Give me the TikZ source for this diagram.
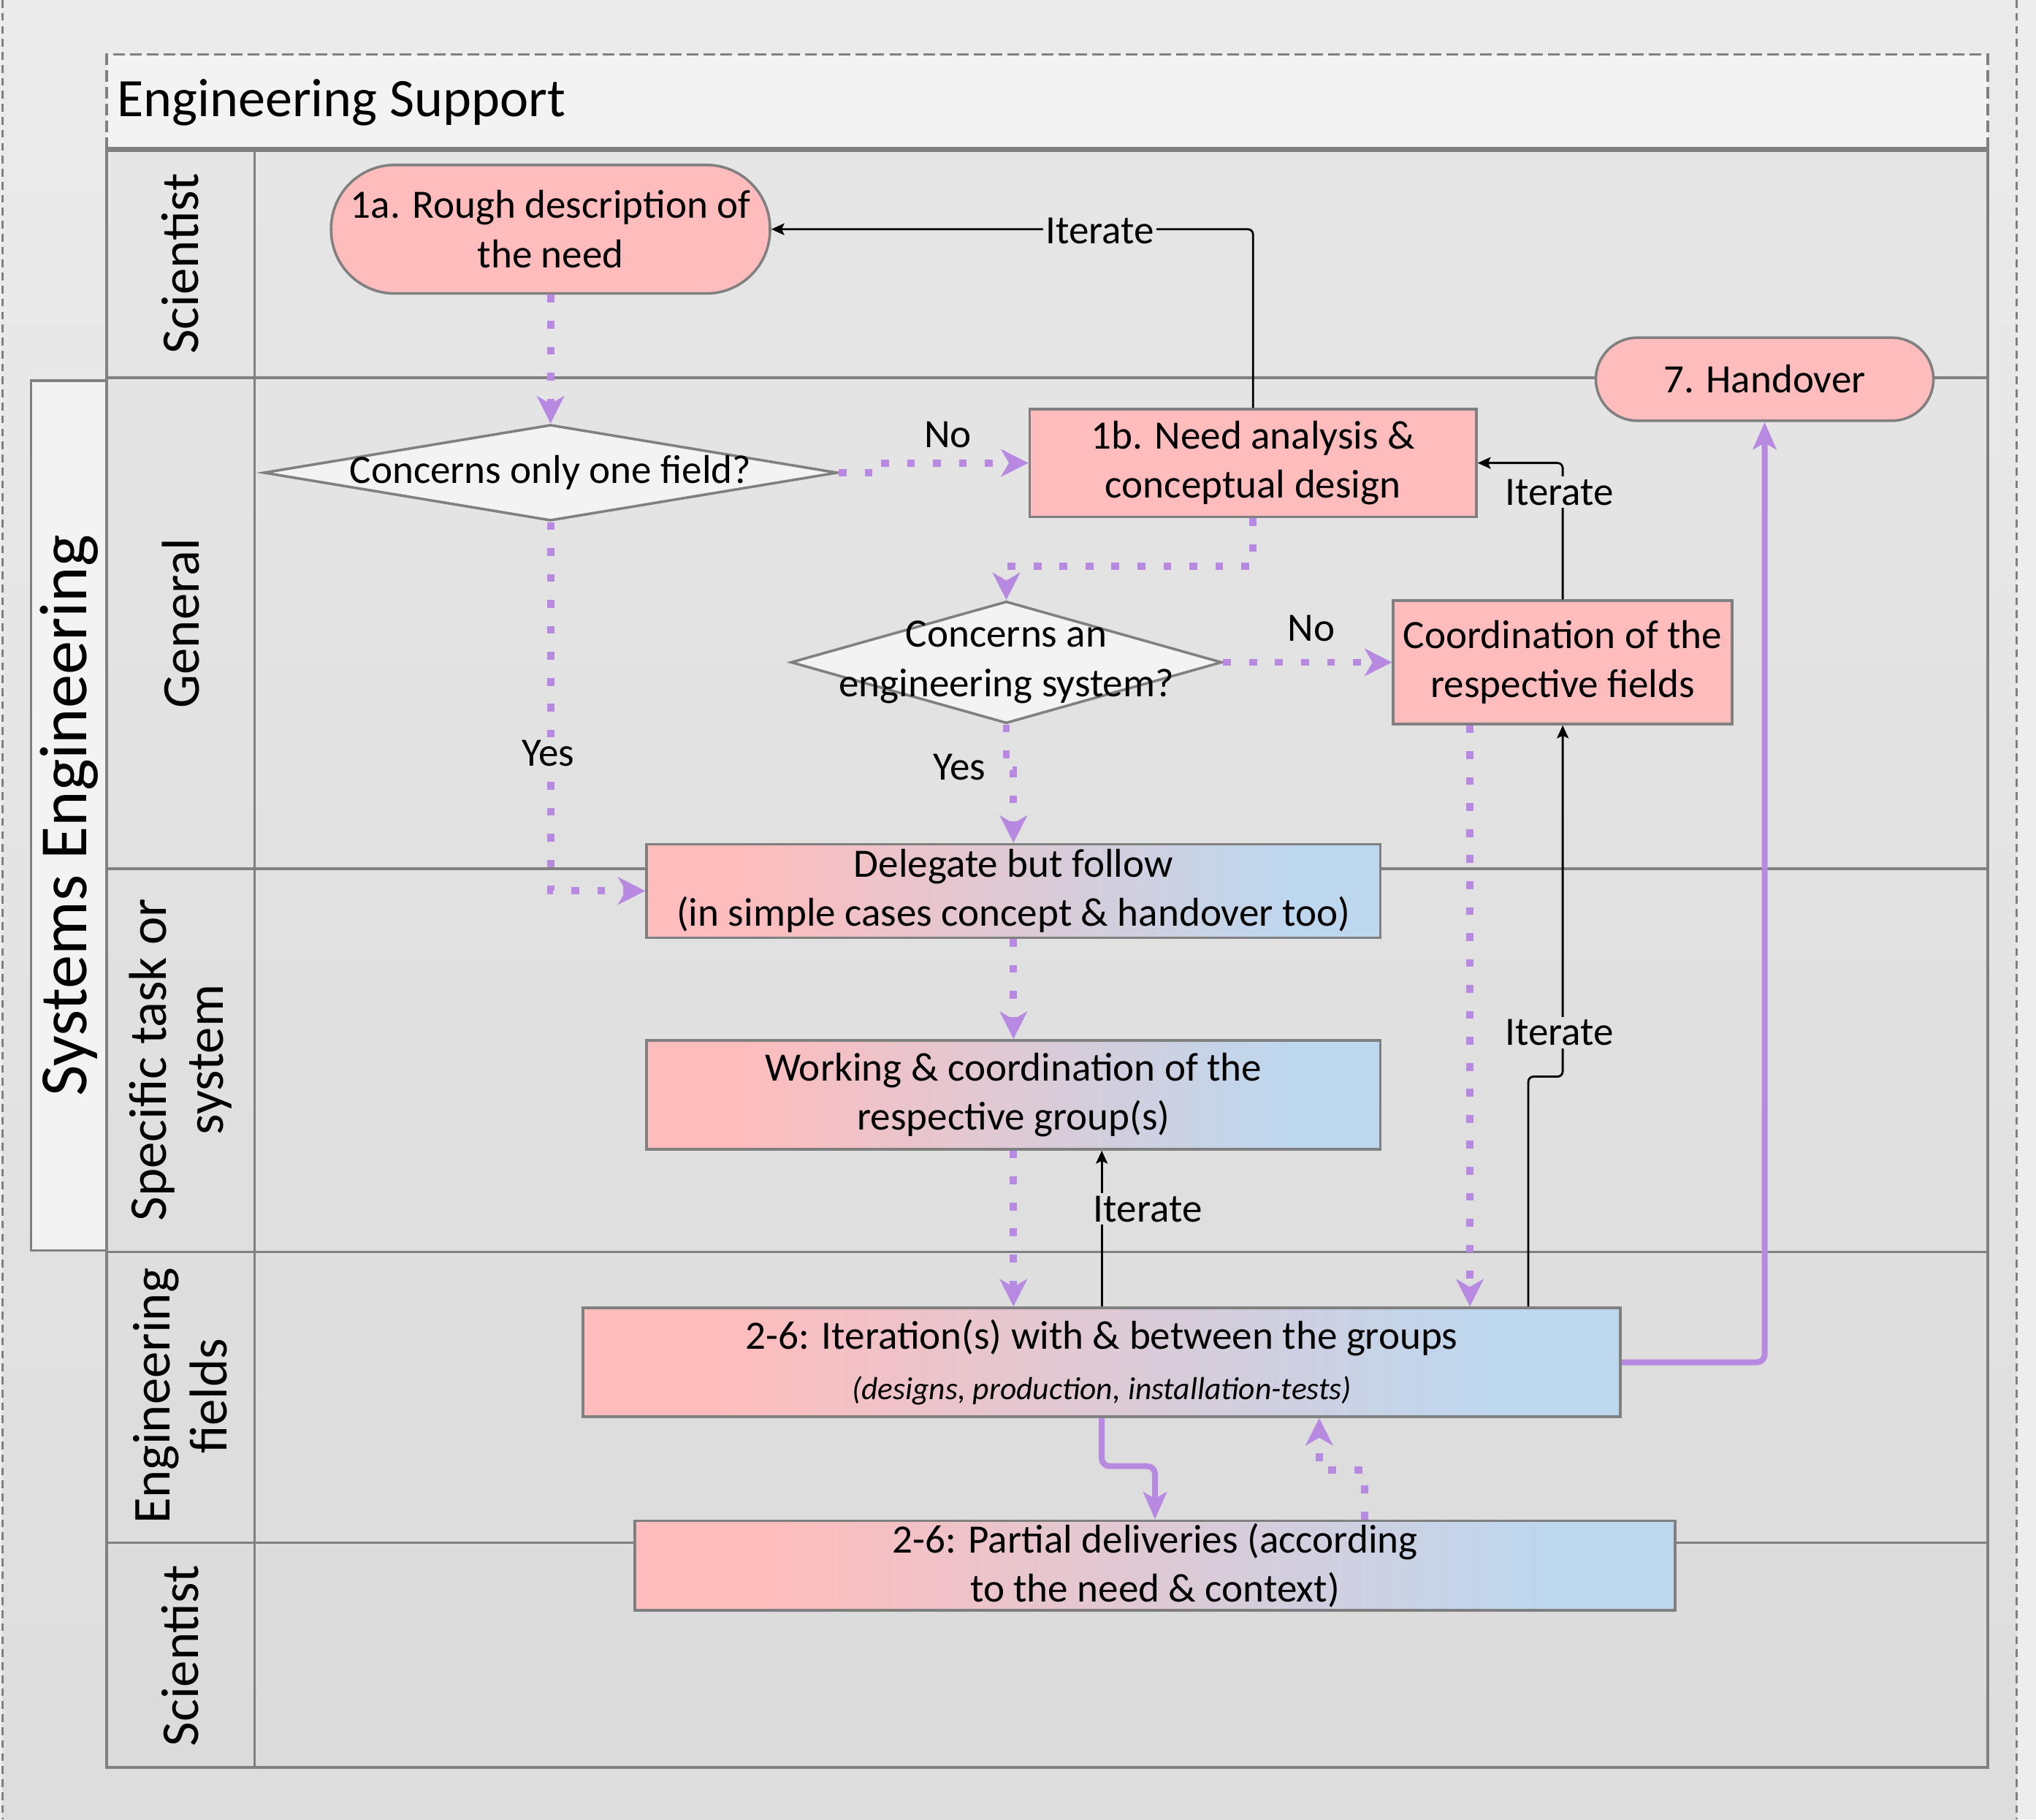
\documentclass[tikz,border=0pt]{standalone}
\usepackage{fontspec}
\setmainfont{Carlito}
\usetikzlibrary{arrows.meta,shapes.geometric,calc}
\definecolor{pk}{RGB}{255,188,188}
\definecolor{bl}{RGB}{189,215,238}
\definecolor{pu}{RGB}{183,137,224}
\definecolor{gr}{RGB}{128,128,128}
\definecolor{pgT}{RGB}{235,235,235}
\definecolor{pgB}{RGB}{221,221,221}
\definecolor{lnT}{RGB}{230,230,230}
\definecolor{lnB}{RGB}{219,219,219}
\definecolor{hd}{RGB}{243,243,243}
\definecolor{outer}{RGB}{237,237,238}
\pgfdeclarehorizontalshading{pkbl}{100bp}{color(0bp)=(pk); color(31bp)=(pk); color(69bp)=(bl); color(100bp)=(bl)}
\begin{document}
\begin{tikzpicture}[x=1pt,y=-1pt,
  txt/.style={font=\fontsize{31}{38}\selectfont, align=center, inner sep=0pt},
  box/.style={txt, draw=gr, line width=2pt, fill=pk},
  gbox/.style={box, shading=pkbl},
  dia/.style={shape=diamond, draw=gr, line width=2pt, fill=hd, inner sep=0pt},
  lane/.style={font=\fontsize{41}{44}\selectfont, rotate=90, align=center, inner sep=0pt},
  pdot/.style={draw=pu, line width=5.5pt, dash pattern=on 6pt off 14pt, -{Stealth[length=21pt,width=21pt,inset=6pt]}},
  psol/.style={draw=pu, line width=4.5pt, rounded corners=6pt, -{Stealth[length=21pt,width=18pt,inset=5pt]}},
  blk/.style={draw=black, line width=1.6pt, rounded corners=4pt, -{Stealth[length=10pt,width=9pt,inset=2pt]}},
  lbl/.style={txt, inner sep=2pt},
  laneline/.style={draw=gr, line width=2pt}
]
\useasboundingbox (0,0) rectangle (1568,1401);
% page background
\fill[outer] (0,0) rectangle (1568,1401);
\shade[top color=pgT, bottom color=pgB] (2,0) rectangle (1553,1401);
\draw[gr, line width=1.5pt, dash pattern=on 6pt off 4pt] (2,0) -- (2,1401);
\draw[gr, line width=1.5pt, dash pattern=on 6pt off 4pt] (1553,0) -- (1553,1401);
% header
\fill[hd] (82,42) rectangle (1531,115);
\draw[gr, line width=2pt, dash pattern=on 9pt off 4pt] (82,115) -- (82,42) -- (1531,42) -- (1531,115);
\node[font=\fontsize{41.7}{46}\selectfont, anchor=west, inner sep=0pt] (hdr) at (90,79) {Engineering Support};
% lanes
\shade[top color=lnT, bottom color=lnB] (82,115) rectangle (1531,1361);
\draw[laneline] (82,115) rectangle (1531,1361);
\draw[gr, line width=3.5pt] (82,115) -- (1531,115);
\foreach \yy in {291,669,964,1188} \draw[laneline] (82,\yy) -- (1531,\yy);
\draw[laneline] (196,115) -- (196,1361);
% systems engineering box
\node[draw=gr, line width=2pt, fill=hd, rotate=90, minimum width=670pt, minimum height=58pt, inner sep=0pt, font=\fontsize{52}{56}\selectfont] (se) at (53,628) {Systems Engineering};
% lane labels
\node[lane] (l1) at (139,203) {Scientist};
\node[lane] (l2) at (139,480) {General};
\node[lane] (l3) at (139,816) {Specific task or\\system};
\node[lane] (l4) at (139,1075) {Engineering\\fields};
\node[lane] (l5) at (139,1275) {Scientist};
% nodes
\node[box, rounded corners=49pt, minimum width=338pt, minimum height=99pt] (n1a) at (424,176.5) {1a. Rough description of\\the need};
\node[box, rounded corners=32pt, minimum width=260pt, minimum height=64pt] (hand) at (1359,292) {7. Handover};
\node[box, minimum width=344pt, minimum height=83pt] (n1b) at (965,356.5) {1b. Need analysis \&\\conceptual design};
\node[dia, minimum width=442pt, minimum height=74pt] (d1) at (424,364) {};
\node[txt] (d1t) at (d1.center) {Concerns only one field?};
\node[dia, minimum width=332pt, minimum height=94pt] (d2) at (775,510) {};
\node[txt] (d2t) at (d2.center) {Concerns an\\engineering system?};
\node[box, minimum width=261pt, minimum height=95pt] (coord) at (1203.5,510) {Coordination of the\\respective fields};
\node[gbox, minimum width=565pt, minimum height=72pt] (del) at (780.5,686) {Delegate but follow\\(in simple cases concept \& handover too)};
\node[gbox, minimum width=565pt, minimum height=84pt] (work) at (780.5,843) {Working \& coordination of the\\respective group(s)};
\node[gbox, minimum width=799pt, minimum height=84pt] (iter) at (848.5,1049) {2-6: Iteration(s) with \& between the groups\\[1pt]{\fontsize{24.5}{27}\selectfont\itshape (designs, production, installation-tests)}};
\node[gbox, minimum width=801pt, minimum height=69pt] (part) at (889.5,1205.5) {2-6: Partial deliveries (according\\to the need \& context)};
% helper coordinates
\coordinate (cx1) at (1132,0);
\coordinate (cx2) at (1177,0);
\coordinate (cx3) at (1051,0);
\coordinate (cx4) at (1016,0);
% purple flow
\draw[pdot] (n1a.south) -- (d1.north);
\draw[pdot] (d1.east) -- ++(31,0) |- (n1b.west);
\draw[pdot] (d1.south) |- (del.west);
\draw[pdot] (n1b.south) -- ++(0,37) -| (d2.north);
\draw[pdot] (d2.east) -- (coord.west);
\draw[pdot] (d2.south) -- ++(0,35) -| (del.north);
\draw[pdot] (del.south) -- (work.north);
\draw[pdot] (work.south) -- (work.south |- iter.north);
\draw[pdot] (cx1 |- coord.south) -- (cx1 |- iter.north);
\draw[pdot] (cx3 |- part.north) -- ++(0,-38) -| (cx4 |- iter.south);
\draw[psol] (iter.east) -| (hand.south);
\draw[psol] (iter.south) -- ++(0,37) -| (part.north);
% black iterate
\draw[blk] (n1b.north) |- (n1a.east);
\draw[blk] (coord.north) |- (n1b.east);
\draw[blk] (iter.north) -- (iter.north |- work.south);
\draw[blk] (cx2 |- iter.north) -- (1177,829) -- (coord.south |- 0,829) -- (coord.south);
% labels
\node[lbl, fill=lnT!95!lnB] (it1) at (847,178) {Iterate};
\node[lbl, fill=lnT!79!lnB] (it2) at (1201,379) {Iterate};
\node[lbl, fill=lnT!45!lnB] (it3) at (1201,795) {Iterate};
\node[lbl, fill=lnT!35!lnB, anchor=west] (it4) at (840,931) {Iterate};
\node[lbl] (no1) at (730,335) {No};
\node[lbl] (no2) at (1010,484) {No};
\node[lbl, fill=lnT!63!lnB] (yes1) at (422,580) {Yes};
\node[lbl] (yes2) at (739,591) {Yes};
\end{tikzpicture}
\end{document}
